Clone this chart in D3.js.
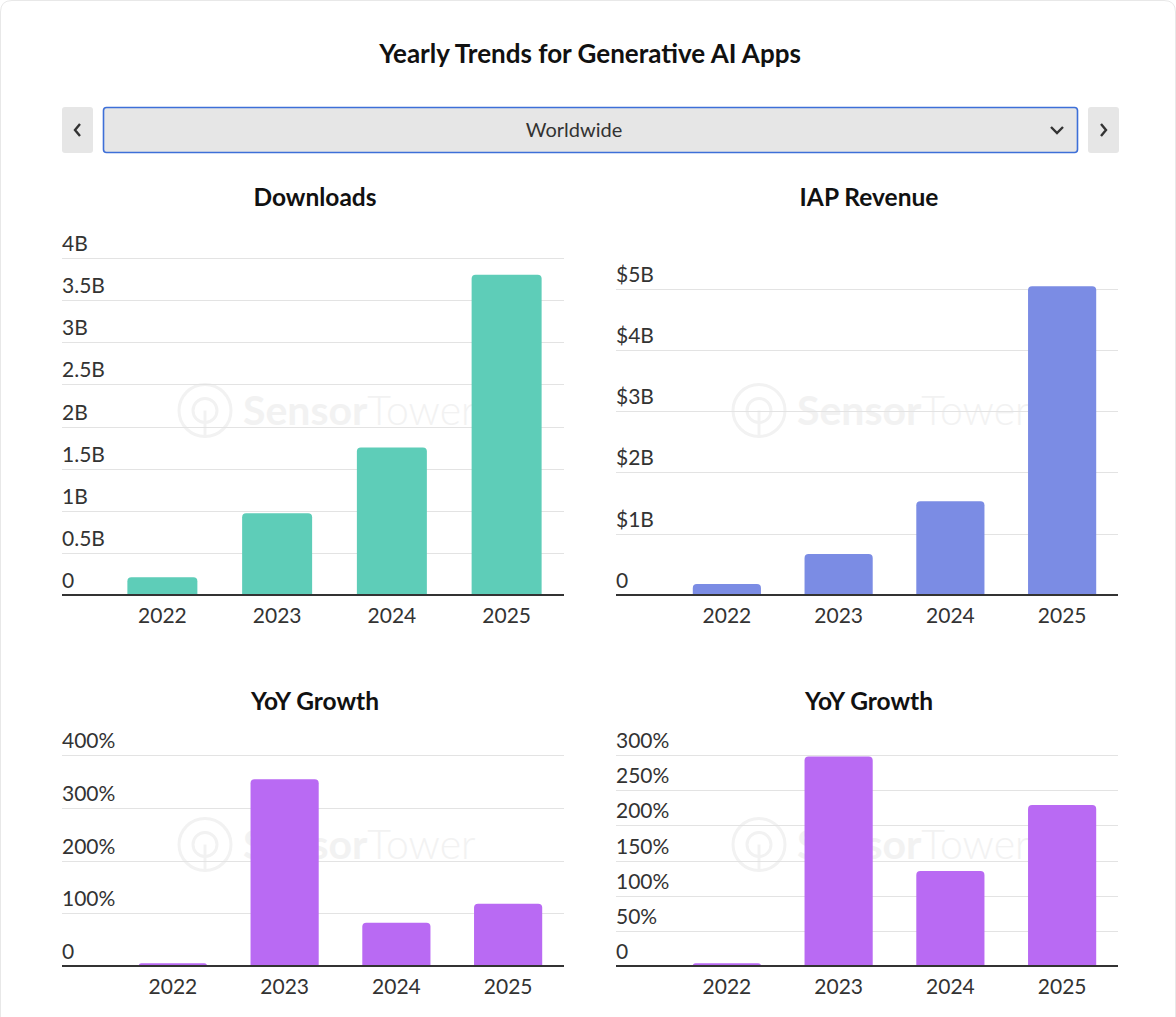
<!DOCTYPE html>
<html>
<head>
<meta charset="utf-8">
<script src="https://cdn.jsdelivr.net/npm/d3@7"></script>
<style>
  body { margin: 0; background: #fff; }
  svg { display: block; font-family: Lato, "Noto Sans", sans-serif; }
</style>
</head>
<body>
<div id="chart"></div>
<script>
// values
const years = ["2022", "2023", "2024", "2025"];
const downloads = [0.21, 0.97, 1.75, 3.8];        // billions
const iapRevenue = [0.18, 0.67, 1.53, 5.04];      // billions USD
const downloadsYoY = [5, 354, 82, 118];           // percent
const revenueYoY = [4, 298, 135, 229];            // percent

const downloadsTicks = [0, 0.5, 1, 1.5, 2, 2.5, 3, 3.5, 4];
const downloadsTickLabels = ["0", "0.5B", "1B", "1.5B", "2B", "2.5B", "3B", "3.5B", "4B"];
const revenueTicks = [0, 1, 2, 3, 4, 5];
const revenueTickLabels = ["0", "$1B", "$2B", "$3B", "$4B", "$5B"];
const downloadsYoYTicks = [0, 100, 200, 300, 400];
const downloadsYoYTickLabels = ["0", "100%", "200%", "300%", "400%"];
const revenueYoYTicks = [0, 50, 100, 150, 200, 250, 300];
const revenueYoYTickLabels = ["0", "50%", "100%", "150%", "200%", "250%", "300%"];

const W = 1176, H = 1017;

let svg = d3
  .select("#chart")
  .append("svg")
  .attr("width", W)
  .attr("height", H);

// faint card border
svg
  .append("path")
  .attr("d", "M0.5," + H + " L0.5,12 Q0.5,0.5 12,0.5 L" + (W - 12) + ",0.5 Q" + (W - 0.5) + ",0.5 " + (W - 0.5) + ",12 L" + (W - 0.5) + "," + H)
  .attr("fill", "none")
  .attr("stroke", "#e8e8e8");

svg
  .append("text")
  .attr("x", 590)
  .attr("y", 63)
  .attr("text-anchor", "middle")
  .style("font-weight", "bold")
  .style("font-size", "26px")
  .attr("fill", "#111")
  .text("Yearly Trends for Generative AI Apps");

// region selector
let sel = svg.append("g");
sel.append("rect").attr("x", 62).attr("y", 107).attr("width", 31).attr("height", 46).attr("rx", 3).attr("fill", "#e6e6e6");
sel.append("rect").attr("x", 1088).attr("y", 107).attr("width", 31).attr("height", 46).attr("rx", 3).attr("fill", "#e6e6e6");
sel.append("rect").attr("x", 103.5).attr("y", 107.5).attr("width", 974).attr("height", 45).attr("rx", 3)
  .attr("fill", "#e6e6e6").attr("stroke", "#3d6fd8").attr("stroke-width", 1.6);
sel.append("path").attr("d", "M80,124 L75,130 L80,136").attr("fill", "none").attr("stroke", "#333").attr("stroke-width", 2.4);
sel.append("path").attr("d", "M1101,124 L1106,130 L1101,136").attr("fill", "none").attr("stroke", "#333").attr("stroke-width", 2.4);
sel.append("path").attr("d", "M1051,127 L1057,133 L1063,127").attr("fill", "none").attr("stroke", "#333").attr("stroke-width", 2.4);
sel.append("text").attr("x", 574).attr("y", 137).attr("text-anchor", "middle")
  .style("font-size", "20px").attr("fill", "#333").text("Worldwide");

function roundTopBar(x, y, w, h, r) {
  r = Math.min(r, h, w / 2);
  return "M" + x + "," + (y + h) +
    " L" + x + "," + (y + r) +
    " Q" + x + "," + y + " " + (x + r) + "," + y +
    " L" + (x + w - r) + "," + y +
    " Q" + (x + w) + "," + y + " " + (x + w) + "," + (y + r) +
    " L" + (x + w) + "," + (y + h) + " Z";
}

function build_plot(cfg) {
  let g = svg.append("g");

  let x = d3
    .scaleBand()
    .domain(years)
    .range([cfg.bandStart, cfg.right])
    .paddingInner(0.39)
    .paddingOuter(0.195);

  let y = d3.scaleLinear().domain([0, cfg.max]).range([cfg.bottom, cfg.top]);

  // title
  g.append("text")
    .attr("x", (cfg.left + cfg.right) / 2 + 2)
    .attr("y", cfg.titleY)
    .attr("text-anchor", "middle")
    .style("font-weight", "bold")
    .style("font-size", "24.5px")
    .attr("fill", "#111")
    .text(cfg.title);

  // watermark
  let wx = (cfg.left + cfg.right) / 2 - 108, wy = (cfg.top + cfg.bottom) / 2 - 16;
  let wm = g.append("g").attr("fill", "none").attr("stroke", "#f2f2f2").attr("stroke-width", 3);
  wm.append("circle").attr("cx", wx).attr("cy", wy).attr("r", 26);
  wm.append("circle").attr("cx", wx).attr("cy", wy).attr("r", 12);
  wm.append("line").attr("x1", wx).attr("x2", wx).attr("y1", wy).attr("y2", wy + 26);
  g.append("text")
    .attr("x", wx + 38).attr("y", wy + 14)
    .style("font-size", "41px")
    .attr("fill", "#f2f2f2")
    .call(function (t) {
      t.append("tspan").style("font-weight", "bold").text("Sensor");
      t.append("tspan").style("font-weight", "300").text("Tower");
    });

  // gridlines
  g.selectAll(".grid")
    .data(cfg.ticks.filter(function (d) { return d > 0; }))
    .enter()
    .append("line")
    .attr("x1", cfg.left)
    .attr("x2", cfg.right)
    .attr("y1", function (d) { return Math.round(y(d)) + 0.5; })
    .attr("y2", function (d) { return Math.round(y(d)) + 0.5; })
    .attr("stroke", "#e3e3e3");

  // y labels sit above their gridline
  g.selectAll(".ylab")
    .data(cfg.ticks)
    .enter()
    .append("text")
    .attr("x", cfg.left)
    .attr("y", function (d) { return y(d) - 7; })
    .style("font-size", "21px")
    .attr("fill", "#333")
    .text(function (d, i) { return cfg.tickLabels[i]; });

  // bars
  g.selectAll(".bar")
    .data(cfg.values)
    .enter()
    .append("path")
    .attr("fill", cfg.color)
    .attr("d", function (d, i) {
      let top = y(d);
      return roundTopBar(x(years[i]), top, x.bandwidth(), cfg.bottom - top, 4);
    });

  // x axis
  let xAxis = d3.axisBottom(x).tickSize(0).tickPadding(13);
  let ax = g.append("g")
    .attr("transform", "translate(0," + cfg.bottom + ")")
    .call(xAxis);
  ax.select(".domain").remove();
  ax.selectAll("text")
    .style("font-size", "21px")
    .style("font-family", "Lato, 'Noto Sans', sans-serif")
    .attr("fill", "#333");

  g.append("line")
    .attr("x1", cfg.left)
    .attr("x2", cfg.right)
    .attr("y1", cfg.bottom)
    .attr("y2", cfg.bottom)
    .attr("stroke", "#333")
    .attr("stroke-width", 2);
}

build_plot({
  title: "Downloads", titleY: 206, left: 62, right: 564, bandStart: 105,
  top: 258, bottom: 595, max: 4, values: downloads, color: "#5ecdb8",
  ticks: downloadsTicks, tickLabels: downloadsTickLabels
});
build_plot({
  title: "IAP Revenue", titleY: 206, left: 616, right: 1118, bandStart: 671,
  top: 258, bottom: 595, max: 5.5, values: iapRevenue, color: "#7b8ce4",
  ticks: revenueTicks, tickLabels: revenueTickLabels
});
build_plot({
  title: "YoY Growth", titleY: 710, left: 62, right: 564, bandStart: 117,
  top: 755, bottom: 966, max: 400, values: downloadsYoY, color: "#b96af3",
  ticks: downloadsYoYTicks, tickLabels: downloadsYoYTickLabels
});
build_plot({
  title: "YoY Growth", titleY: 710, left: 616, right: 1118, bandStart: 671,
  top: 755, bottom: 966, max: 300, values: revenueYoY, color: "#b96af3",
  ticks: revenueYoYTicks, tickLabels: revenueYoYTickLabels
});
</script>
</body>
</html>
